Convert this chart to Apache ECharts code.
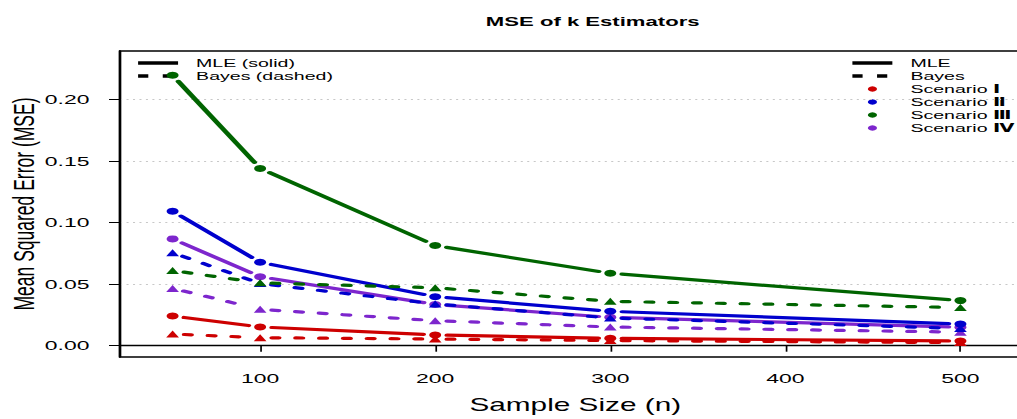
<!DOCTYPE html>
<html>
<head>
<meta charset="utf-8">
<script src="https://cdn.jsdelivr.net/npm/echarts@6/dist/echarts.min.js"></script>
<style>
  html, body { margin: 0; padding: 0; background: #fff; overflow: hidden; }
  #wrap { width: 1017px; height: 419px; overflow: hidden; }
  /* the figure is laid out on a narrower canvas and widened horizontally */
  #chart { width: 598px; height: 419px; transform: scaleX(1.7007); transform-origin: 0 0; }
</style>
</head>
<body>
<div id="wrap"><div id="chart"></div></div>
<script>
// Sample sizes (x axis)
const sampleSizes = [50, 100, 200, 300, 500];

// MSE of k: MLE (solid, circles) and Bayes (dashed, triangles) per scenario
const mleI     = [0.0241, 0.0152, 0.0087, 0.0060, 0.0038];
const bayesI   = [0.0095, 0.0065, 0.0054, 0.0042, 0.0025];
const mleII    = [0.1092, 0.0677, 0.0398, 0.0279, 0.0176];
const bayesII  = [0.0755, 0.0505, 0.0339, 0.0225, 0.0140];
const mleIII   = [0.2195, 0.1439, 0.0813, 0.0588, 0.0366];
const bayesIII = [0.0610, 0.0510, 0.0470, 0.0360, 0.0310];
const mleIV    = [0.0867, 0.0560, 0.0335, 0.0230, 0.0150];
const bayesIV  = [0.0465, 0.0295, 0.0203, 0.0152, 0.0110];

// Axis ticks
const xTicks = [100, 200, 300, 400, 500];
const yTicks = [0, 0.05, 0.10, 0.15, 0.20];

const scenarioNumerals = ['\u2160', '\u2161', '\u2162', '\u2163'];
const colors = { I: '#CD0000', II: '#0000CD', III: '#006400', IV: '#7D26CD' };

const FONT = "'Liberation Sans', Arial, 'DejaVu Sans', sans-serif";
const GAP = 7;      // space left between a line segment and its point
const LW = 3.2;     // series line width

function lineSeries(name, values, color, dashed) {
  const segs = [];
  for (let i = 0; i < sampleSizes.length - 1; i++) {
    segs.push([sampleSizes[i], values[i], sampleSizes[i + 1], values[i + 1]]);
  }
  return {
    type: 'custom', name: name, data: segs, silent: true, animation: false,
    encode: { x: [0, 2], y: [1, 3] },
    renderItem: function (params, api) {
      const a = api.coord([api.value(0), api.value(1)]);
      const b = api.coord([api.value(2), api.value(3)]);
      const dx = b[0] - a[0], dy = b[1] - a[1];
      const len = Math.hypot(dx, dy);
      if (len <= 2 * GAP) return null;
      const ux = dx / len, uy = dy / len;
      return {
        type: 'line',
        shape: { x1: a[0] + ux * GAP, y1: a[1] + uy * GAP, x2: b[0] - ux * GAP, y2: b[1] - uy * GAP },
        style: { stroke: color, lineWidth: LW, lineDash: dashed ? [4, 10] : null, lineCap: 'round' }
      };
    }
  };
}

function pointSeries(name, values, color, symbol) {
  return {
    type: 'scatter', name: name, silent: true, animation: false,
    symbol: symbol,
    symbolSize: symbol === 'triangle' ? [7.5, 7] : 7,
    itemStyle: { color: color, opacity: 1 },
    data: sampleSizes.map((n, i) => [n, values[i]])
  };
}

function scenario(key, mle, bayes) {
  const c = colors[key];
  return [
    lineSeries('MLE ' + key, mle, c, false),
    lineSeries('Bayes ' + key, bayes, c, true),
    pointSeries('MLE pts ' + key, mle, c, 'circle'),
    pointSeries('Bayes pts ' + key, bayes, c, 'triangle')
  ];
}

const series = [].concat(
  scenario('I', mleI, bayesI),
  scenario('IV', mleIV, bayesIV),
  scenario('II', mleII, bayesII),
  scenario('III', mleIII, bayesIII)
);

// Legend drawn as graphic elements
function legendLine(x1, x2, y, dashed) {
  return { type: 'line', silent: true,
    shape: { x1: x1, y1: y, x2: x2, y2: y },
    style: { stroke: '#000', lineWidth: 3.5, lineDash: dashed ? [6, 8.5] : null, lineCap: 'butt' } };
}
function legendText(x, y, text) {
  return { type: 'text', silent: true, x: x, y: y,
    style: { text: text, fontSize: 11.5, fontFamily: FONT, fill: '#000',
             align: 'left', verticalAlign: 'middle', textVerticalAlign: 'middle',
             rich: { num: { fontSize: 11.5, fontFamily: "'DejaVu Sans', sans-serif",
                            fontWeight: 'bold', fill: '#000' } } } };
}
const rowY = [63, 76, 89, 102, 115, 128];
const scenColors = [colors.I, colors.II, colors.III, colors.IV];
const graphics = [
  legendLine(81.2, 104.7, rowY[0], false),
  legendLine(81.2, 104.7, rowY[1], true),
  legendText(115.3, rowY[0], 'MLE (solid)'),
  legendText(115.3, rowY[1], 'Bayes (dashed)'),
  legendLine(501.2, 524.7, rowY[0], false),
  legendLine(501.2, 524.7, rowY[1], true),
  legendText(535.3, rowY[0], 'MLE'),
  legendText(535.3, rowY[1], 'Bayes')
];
scenarioNumerals.forEach((num, i) => {
  graphics.push({ type: 'circle', silent: true, shape: { cx: 513, cy: rowY[i + 2], r: 2.7 },
                  style: { fill: scenColors[i] } });
  graphics.push(legendText(535.3, rowY[i + 2], 'Scenario {num|' + num + '}'));
});

const chart = echarts.init(document.getElementById('chart'), null, { renderer: 'svg' });
chart.setOption({
  animation: false,
  backgroundColor: '#fff',
  title: {
    text: 'MSE of k Estimators', left: 343.5, top: 10, textAlign: 'center',
    textStyle: { fontFamily: FONT, fontWeight: 'bold', fontSize: 13, color: '#000' }
  },
  grid: {
    left: 70.6, top: 51, width: 535.3, height: 306,
    outerBoundsMode: 'none', containLabel: false,
    show: true, borderColor: '#000', borderWidth: 1.4, backgroundColor: 'transparent'
  },
  xAxis: {
    type: 'value', min: 20, max: 540,
    name: 'Sample Size (n)', nameLocation: 'middle', nameGap: 39, nameMoveOverlap: false,
    nameTextStyle: { fontFamily: FONT, fontSize: 17.5, color: '#000' },
    axisLine: { show: true, lineStyle: { color: '#000', width: 1.4 } },
    axisTick: { show: true, length: 6, customValues: xTicks, lineStyle: { color: '#000', width: 1 } },
    axisLabel: { customValues: xTicks, margin: 14, fontFamily: FONT, fontSize: 13.5, color: '#000' },
    splitLine: { show: false }
  },
  yAxis: {
    type: 'value', min: -0.00917, max: 0.2392,
    name: 'Mean Squared Error (MSE)', nameLocation: 'middle', nameGap: 48, nameRotate: 90,
    nameMoveOverlap: false,
    nameTextStyle: { fontFamily: FONT, fontSize: 17.5, color: '#000' },
    axisLine: { show: true, lineStyle: { color: '#000', width: 1.4 } },
    axisTick: { show: true, length: 6.5, customValues: yTicks, lineStyle: { color: '#000', width: 1 } },
    axisLabel: { customValues: yTicks, margin: 18, fontFamily: FONT, fontSize: 13.5, color: '#000',
                 formatter: v => v.toFixed(2) },
    splitLine: { show: true, lineStyle: { color: '#c8c8c8', width: 1, type: [1.2, 2.6] } }
  },
  graphic: graphics,
  series: series
});
</script>
</body>
</html>
